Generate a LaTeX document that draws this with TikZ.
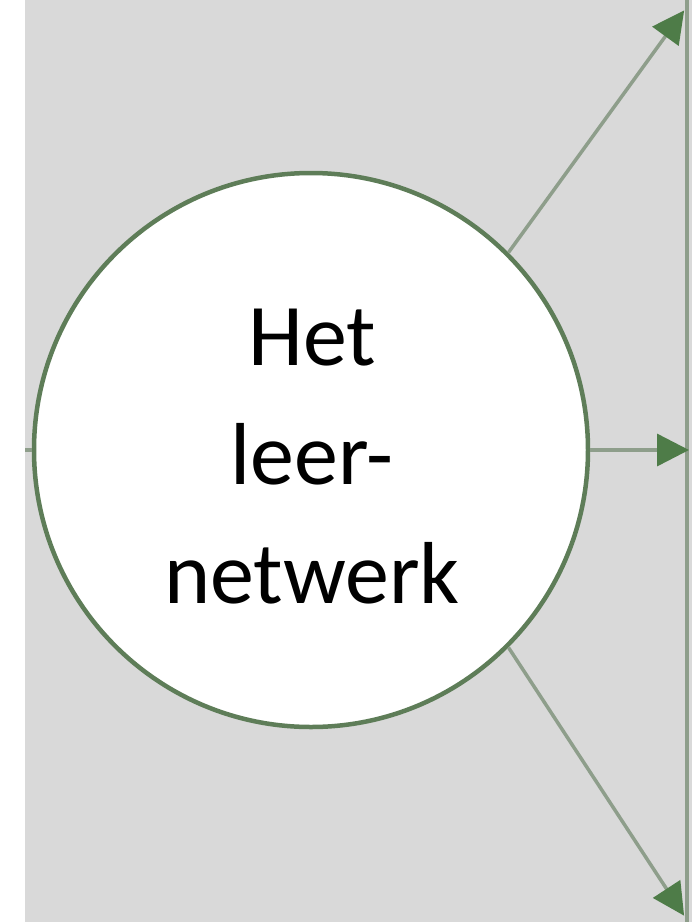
\documentclass[tikz,border=0pt]{standalone}
\usepackage{fontspec}
\setmainfont{Carlito}
\usetikzlibrary{arrows.meta}
\definecolor{bggray}{HTML}{D9D9D9}
\definecolor{ringgreen}{HTML}{5E7D58}
\definecolor{linegray}{HTML}{8E9E8B}
\definecolor{headgreen}{HTML}{4E7C48}
\tikzset{
  ring/.style={circle,draw=ringgreen,line width=4.5pt,fill=white,minimum size=554pt,inner sep=0pt},
  conn/.style={draw=linegray,line width=3.5pt,-{Triangle[length=32pt,width=32pt,color=headgreen]},shorten >=-2pt},
  stub/.style={draw=linegray,line width=3.5pt},
  label/.style={font=\fontsize{88}{119}\selectfont,align=center,text=black}
}
\begin{document}
\begin{tikzpicture}[x=1pt,y=-1pt]
\useasboundingbox (0,0) rectangle (692,922);
\fill[bggray] (25,0) rectangle (692,922);
\coordinate (rtop) at (687,0);
\coordinate (rbot) at (687,922);
\draw[linegray,line width=3.5pt] (rtop) -- (rbot);
\coordinate (lstub) at (25,450);
\node[ring] (c) at (311,450) {};
\draw[stub] (lstub) -- (c.west);
\node[label] (t) at (312,457) {Het\\leer-\\netwerk};
\coordinate (e1) at (683,12);
\coordinate (e2) at (687,450);
\coordinate (e3) at (683,914);
\draw[conn] (c.45) -- (e1);
\draw[conn] (c.east) -- (e2);
\draw[conn] (c.-45) -- (e3);
\end{tikzpicture}
\end{document}
